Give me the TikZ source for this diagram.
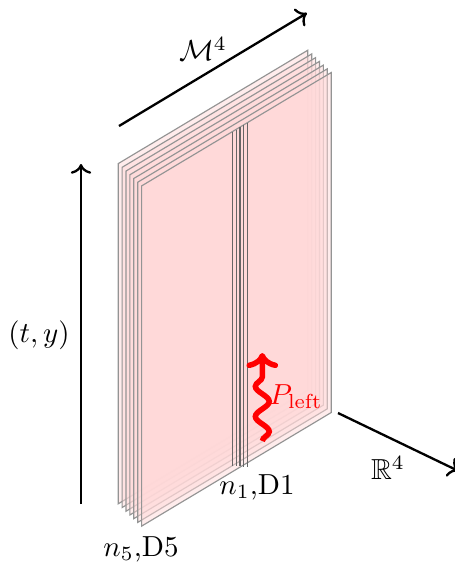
\documentclass[tikz,border=0pt]{standalone}
\usepackage{amsmath}
\usepackage{amssymb}
\usetikzlibrary{arrows.meta, decorations.pathmorphing}

\begin{document}
\begin{tikzpicture}[
    x=0.01213cm, y=-0.01213cm,
    brane/.style={draw=black!42, fill=red!15, fill opacity=0.5, line width=0.4pt},
    string/.style={draw=black!60, line width=0.4pt},
    axis/.style={-{Computer Modern Rightarrow[scale=1.0]}, thick},
    wave/.style={-{Computer Modern Rightarrow[scale=0.9]}, red, line width=1.9pt, decorate, decoration={snake, mirror, amplitude=2.4pt, segment length=10.4pt, post length=6pt}}
]
    \useasboundingbox (0,0) rectangle (454,563);

    % D5 planes
    \foreach \i in {0,...,6} {
        \path[brane, shift={(3.9*\i,3.72*\i)}] (118.2,163.6) -- (307.8,50.2) -- (307.8,390.2) -- (118.2,503.8) -- cycle;
    }

    % D1 lines
    \foreach \xs/\ytop/\ybot in {232.2/132/466, 236.4/129.5/466.2, 240/127.4/466.4, 243.8/125/466.6, 247.6/122.7/466.8} {
        \draw[string] (\xs,\ytop) -- (\xs,\ybot);
    }

    % Axes
    \coordinate (mstart) at (119,126);
    \coordinate (mend) at (307,13);
    \coordinate (tstart) at (81,504);
    \coordinate (tend) at (81,164);
    \coordinate (rstart) at (338,413);
    \coordinate (rend) at (458.5,471);
    \draw[axis] (mstart) -- (mend);
    \draw[axis] (tstart) -- (tend);
    \draw[axis] (rstart) -- (rend);

    % Open string
    \coordinate (pstart) at (262.3,441);
    \coordinate (pend) at (262.3,353);
    \draw[wave] (pstart) -- (pend);

    % Labels
    \node (mlabel) at (203,49) {$\mathcal{M}^4$};
    \node (tlabel) at (39,335) {$(t,y)$};
    \node (rlabel) at (388,468) {$\mathbb{R}^4$};
    \node (dfive) at (141,549) {$n_5$,D5};
    \node (done) at (257,487) {$n_1$,D1};
    \node[red] (plabel) at (296,397) {$P_{\text{left}}$};
\end{tikzpicture}
\end{document}
